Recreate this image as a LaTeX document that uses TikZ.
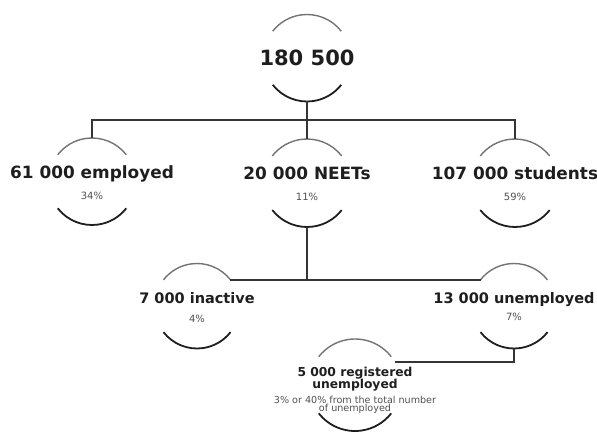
\documentclass[tikz,border=0pt]{standalone}
\usepackage{fontspec}
\setmainfont{DejaVu Sans}
\usetikzlibrary{positioning}
\usetikzlibrary{calc}
\definecolor{ink}{RGB}{30,30,30}
\definecolor{rim}{RGB}{115,115,115}
\definecolor{note}{RGB}{80,80,80}

% two arcs round a ring node: light above, dark below
\newcommand{\ringarcs}[2]{%
  \draw[toparc] (#1.38) arc[start angle=38, end angle=142, radius=#2];
  \draw[botarc] (#1.218) arc[start angle=218, end angle=322, radius=#2];
}

\tikzset{
  ring/.style={circle, minimum size=#1, inner sep=0pt, outer sep=0pt},
  toparc/.style={rim, line width=1.4pt},
  botarc/.style={ink, line width=1.8pt},
  link/.style={ink!90, line width=1.6pt},
  total/.style={font=\bfseries\fontsize{21}{24}\selectfont, text=ink, inner sep=0pt},
  head/.style={font=\bfseries\fontsize{16.9}{20}\selectfont, text=ink, inner sep=0pt, anchor=base},
  subhead/.style={font=\bfseries\fontsize{14.5}{17}\selectfont, text=ink, inner sep=0pt, anchor=base},
  smallhead/.style={font=\bfseries\fontsize{12.3}{12}\selectfont, text=ink, inner sep=0pt, align=center},
  share/.style={font=\fontsize{10}{12}\selectfont, text=note, inner sep=0pt, anchor=base},
  remark/.style={font=\fontsize{9.6}{8.5}\selectfont, text=note, inner sep=0pt, align=center}
}

\begin{document}
\begin{tikzpicture}[x=1pt, y=1pt]
\useasboundingbox (0,0) rectangle (597,432);

% Rings
\node[ring=87pt] (total) at (307,374) {};
\node[ring=87pt] (employed) at (92,250.5) {};
\node[ring=88pt] (neets) at (307,249) {};
\node[ring=88pt] (students) at (515,249) {};
\node[ring=85pt] (inactive) at (197,126) {};
\node[ring=85pt] (unemployed) at (514,126) {};
\node[ring=92pt] (registered) at (355,47) {};

\ringarcs{total}{43.5pt}
\ringarcs{employed}{43.5pt}
\ringarcs{neets}{44pt}
\ringarcs{students}{44pt}
\ringarcs{inactive}{42.5pt}
\ringarcs{unemployed}{42.5pt}
\ringarcs{registered}{46pt}

% Texts
\node[total] (total-t) at (total) {180 500};

\node[head] (employed-t) at ([yshift=3.5pt]employed) {61 000 employed};
\node[share] (employed-p) at ([yshift=-18pt]employed) {34\%};

\node[head] (neets-t) at ([yshift=4pt]neets) {20 000 NEETs};
\node[share] (neets-p) at ([yshift=-17pt]neets) {11\%};

\node[head] (students-t) at ([yshift=4pt]students) {107 000 students};
\node[share] (students-p) at ([yshift=-17pt]students) {59\%};

\node[subhead] (inactive-t) at ([yshift=3pt]inactive) {7 000 inactive};
\node[share] (inactive-p) at ([yshift=-16pt]inactive) {4\%};

\node[subhead] (unemployed-t) at ([yshift=3pt]unemployed) {13 000 unemployed};
\node[share] (unemployed-p) at ([yshift=-14pt]unemployed) {7\%};

\node[smallhead] (registered-t) at ([yshift=6pt]registered) {5 000 registered\\unemployed};
\node[remark] (registered-p) at ([yshift=-20pt]registered) {3\% or 40\% from the total number\\of unemployed};

% Links
\coordinate (split1) at (307,312);
\draw[link] (total.south) -- (split1);
\draw[link] (employed.north) |- (split1) -| (students.north);
\draw[link] (split1) -- (neets.north);

\draw[link] (inactive.38) -- (unemployed.142);
\draw[link] (neets.south) -- (neets.south |- inactive.38);

\draw[link] (unemployed.south) |- (registered.30);

\end{tikzpicture}
\end{document}
